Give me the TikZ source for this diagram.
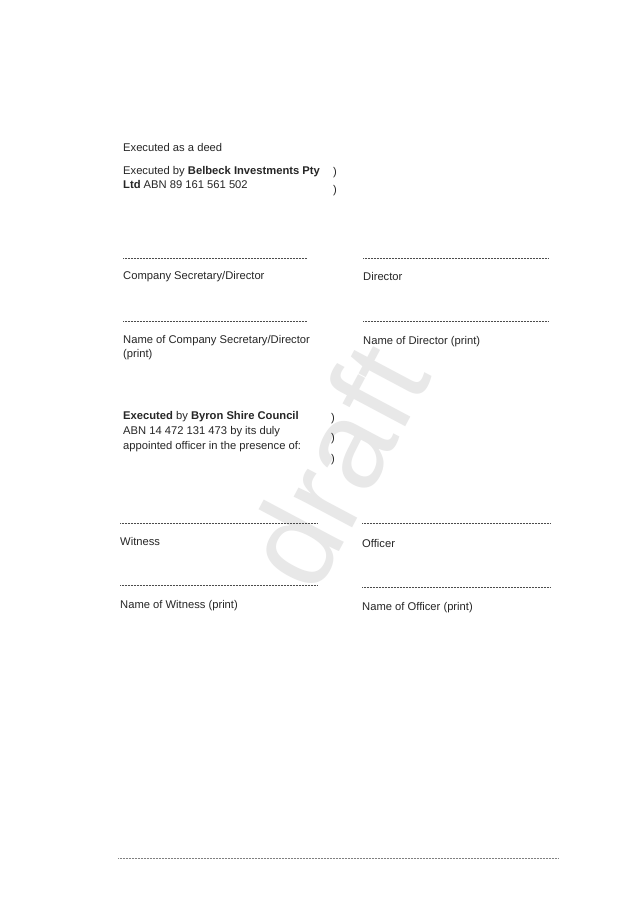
\documentclass[tikz,border=0pt]{standalone}
\usepackage{fontspec}
\setmainfont{Liberation Sans}
\begin{document}
\begin{tikzpicture}[x=1pt,y=-1pt,
  every node/.style={anchor=base west,inner sep=0pt,font=\fontsize{11.2}{13}\selectfont,text=black!85},
  sigline/.style={densely dotted,line width=0.5pt,black!70},
  paren/.style={anchor=base west}]
  \useasboundingbox[fill=white] (0,0) rectangle (637,901);
  % watermark
  \node[rotate=62,anchor=center,font=\fontsize{125}{125}\selectfont,text=black!9] (wm) at (335,465) {draft};
  \node (deed) at (123,152) {Executed as a deed};
  \node (bel1) at (123,175) {Executed by \textbf{Belbeck Investments Pty}};
  \node (bel2) at (123,189) {\textbf{Ltd} ABN 89 161 561 502};
  \node[paren] (pa1) at (333,176) {)};
  \node[paren] (pa2) at (333,194) {)};
  % first signature block
  \coordinate (l1a) at (123,258); \coordinate (l1b) at (307,258);
  \coordinate (r1a) at (363,258); \coordinate (r1b) at (548,258);
  \draw[sigline] (l1a) -- (l1b);
  \draw[sigline] (r1a) -- (r1b);
  \node (csd) at (123,279) {Company Secretary/Director};
  \node (dir) at (363,280) {Director};
  \coordinate (l2a) at (123,321); \coordinate (l2b) at (307,321);
  \coordinate (r2a) at (363,321); \coordinate (r2b) at (548,321);
  \draw[sigline] (l2a) -- (l2b);
  \draw[sigline] (r2a) -- (r2b);
  \node (ncsd) at (123,343) {Name of Company Secretary/Director};
  \node (pr1) at (123,357) {(print)};
  \node (ndir) at (363,344) {Name of Director (print)};
  % council
  \node (bsc1) at (123,419) {\textbf{Executed} by \textbf{Byron Shire Council}};
  \node (bsc2) at (123,434) {ABN 14 472 131 473 by its duly};
  \node (bsc3) at (123,449) {appointed officer in the presence of:};
  \node[paren] (pb1) at (331,421) {)};
  \node[paren] (pb2) at (331,441) {)};
  \node[paren] (pb3) at (331,462) {)};
  \coordinate (l3a) at (120,523); \coordinate (l3b) at (318,523);
  \coordinate (r3a) at (362,523); \coordinate (r3b) at (551,523);
  \draw[sigline] (l3a) -- (l3b);
  \draw[sigline] (r3a) -- (r3b);
  \node (wit) at (120,545) {Witness};
  \node (off) at (362,547) {Officer};
  \coordinate (l4a) at (120,585); \coordinate (l4b) at (318,585);
  \coordinate (r4a) at (362,587); \coordinate (r4b) at (551,587);
  \draw[sigline] (l4a) -- (l4b);
  \draw[sigline] (r4a) -- (r4b);
  \node (nwit) at (120,608) {Name of Witness (print)};
  \node (noff) at (362,610) {Name of Officer (print)};
  % footer rule
  \coordinate (fa) at (118,858); \coordinate (fb) at (558,858);
  \draw[sigline,black!50] (fa) -- (fb);
\end{tikzpicture}
\end{document}
